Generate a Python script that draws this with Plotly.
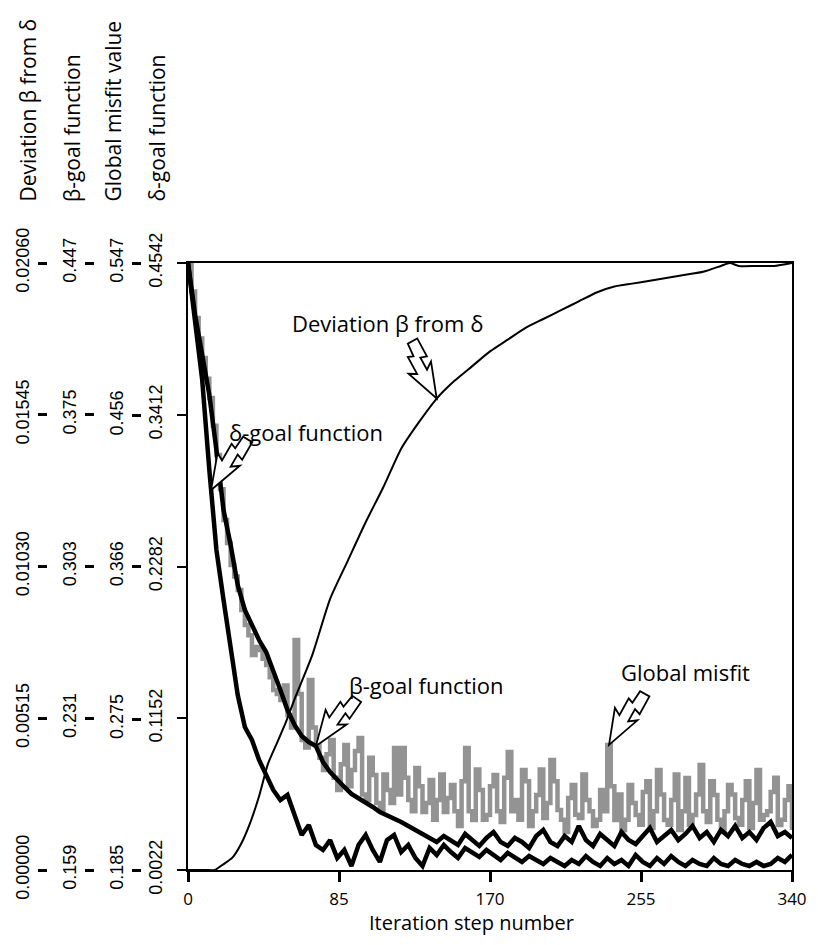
import numpy as np
import plotly.graph_objects as go

# ---------------- data ----------------
steps = list(range(0, 341, 4))
misfit_steps = list(range(0, 341, 2))

delta_goal = [
    0.4542, 0.4118, 0.3671, 0.3001, 0.2405, 0.2033, 0.1698, 0.1325, 0.1087, 0.0990,
    0.0841, 0.0729, 0.0618, 0.0543, 0.0581, 0.0432, 0.0283, 0.0357, 0.0208, 0.0171,
    0.0245, 0.0111, 0.0171, 0.0052, 0.0208, 0.0283, 0.0171, 0.0082, 0.0245, 0.0283,
    0.0156, 0.0208, 0.0111, 0.0052, 0.0186, 0.0134, 0.0208, 0.0156, 0.0111, 0.0186,
    0.0156, 0.0119, 0.0171, 0.0134, 0.0096, 0.0149, 0.0111, 0.0082, 0.0126, 0.0096,
    0.0067, 0.0111, 0.0082, 0.0052, 0.0096, 0.0067, 0.0126, 0.0082, 0.0052, 0.0111,
    0.0067, 0.0096, 0.0052, 0.0134, 0.0082, 0.0052, 0.0111, 0.0067, 0.0126, 0.0082,
    0.0052, 0.0096, 0.0067, 0.0052, 0.0111, 0.0067, 0.0052, 0.0096, 0.0067, 0.0052,
    0.0082, 0.0052, 0.0067, 0.0111, 0.0082, 0.0134,
]

beta_goal = [
    0.4470, 0.4223, 0.4034, 0.3844, 0.3583, 0.3298, 0.3132, 0.2942, 0.2824, 0.2753,
    0.2681, 0.2624, 0.2539, 0.2444, 0.2349, 0.2278, 0.2226, 0.2197, 0.2178, 0.2102,
    0.2055, 0.2017, 0.1984, 0.1951, 0.1932, 0.1913, 0.1889, 0.1865, 0.1851, 0.1837,
    0.1818, 0.1799, 0.1780, 0.1761, 0.1742, 0.1723, 0.1751, 0.1732, 0.1709, 0.1761,
    0.1732, 0.1704, 0.1742, 0.1770, 0.1723, 0.1704, 0.1742, 0.1723, 0.1694, 0.1751,
    0.1780, 0.1723, 0.1704, 0.1751, 0.1723, 0.1799, 0.1732, 0.1704, 0.1761, 0.1732,
    0.1704, 0.1770, 0.1732, 0.1713, 0.1751, 0.1789, 0.1723, 0.1751, 0.1780, 0.1732,
    0.1761, 0.1799, 0.1742, 0.1770, 0.1723, 0.1780, 0.1751, 0.1799, 0.1742, 0.1770,
    0.1732, 0.1789, 0.1818, 0.1751, 0.1770, 0.1742,
]

global_misfit = [
    0.5470, 0.5300, 0.5142, 0.5020, 0.4904, 0.4780, 0.4665, 0.4500, 0.4325, 0.4120,
    0.3937, 0.3800, 0.3669, 0.3600, 0.3520, 0.3400, 0.3311, 0.3250, 0.3132, 0.3180,
    0.3162, 0.3110, 0.3073, 0.3000, 0.2924, 0.2900, 0.2864, 0.2950, 0.2774, 0.2700,
    0.3222, 0.2900, 0.2625, 0.2580, 0.2983, 0.2700, 0.2596, 0.2520, 0.2446, 0.2540,
    0.2625, 0.2400, 0.2327, 0.2480, 0.2596, 0.2350, 0.2446, 0.2560, 0.2637, 0.2300,
    0.2267, 0.2520, 0.2417, 0.2250, 0.2208, 0.2420, 0.2327, 0.2250, 0.2578, 0.2300,
    0.2578, 0.2400, 0.2267, 0.2200, 0.2458, 0.2350, 0.2196, 0.2250, 0.2387, 0.2150,
    0.2267, 0.2420, 0.2196, 0.2280, 0.2357, 0.2200, 0.2112, 0.2380, 0.2578, 0.2200,
    0.2148, 0.2450, 0.2327, 0.2150, 0.2178, 0.2350, 0.2417, 0.2200, 0.2136, 0.2400,
    0.2554, 0.2200, 0.2267, 0.2150, 0.2446, 0.2380, 0.2112, 0.2200, 0.2297, 0.2450,
    0.2160, 0.2250, 0.2506, 0.2380, 0.2208, 0.2150, 0.2077, 0.2280, 0.2357, 0.2180,
    0.2160, 0.2420, 0.2267, 0.2200, 0.2112, 0.2150, 0.2327, 0.2200, 0.2596, 0.2350,
    0.2148, 0.2300, 0.2089, 0.2150, 0.2357, 0.2250, 0.2178, 0.2120, 0.2315, 0.2380,
    0.2100, 0.2200, 0.2446, 0.2300, 0.2148, 0.2120, 0.2267, 0.2420, 0.2089, 0.2200,
    0.2399, 0.2120, 0.2178, 0.2300, 0.2476, 0.2200, 0.2136, 0.2380, 0.2297, 0.2150,
    0.2077, 0.2200, 0.2357, 0.2300, 0.2160, 0.2120, 0.2267, 0.2380, 0.2100, 0.2250,
    0.2446, 0.2150, 0.2178, 0.2200, 0.2315, 0.2400, 0.2118, 0.2150, 0.2267, 0.2350,
    0.2089,
]

dev_steps = [0, 10, 15, 20, 25, 30, 35, 40, 45, 50, 55, 60, 70, 80, 90, 100, 110, 120,
             130, 140, 150, 160, 170, 180, 190, 200, 210, 220, 230, 240, 250, 260, 270,
             280, 290, 300, 305, 310, 320, 330, 340]
deviation = [0, 0, 0, 0.0002, 0.00042, 0.0009, 0.0016, 0.0025, 0.0036, 0.0043, 0.0050,
             0.0058, 0.0073, 0.0092, 0.0105, 0.0118, 0.0130, 0.0143, 0.0152, 0.0160,
             0.0166, 0.0171, 0.0176, 0.0180, 0.0184, 0.0187, 0.0190, 0.0193, 0.0196,
             0.0198, 0.0199, 0.0200, 0.0201, 0.0202, 0.0203, 0.0205, 0.0206, 0.0205,
             0.0205, 0.0205, 0.0206]

x_ticks = [0, 85, 170, 255, 340]
x_tick_text = ["0", "85", "170", "255", "340"]

dev_ticks = [0.0, 0.00515, 0.01030, 0.01545, 0.02060]
dev_text = ["0.00000", "0.00515", "0.01030", "0.01545", "0.02060"]
beta_ticks = [0.159, 0.231, 0.303, 0.375, 0.447]
beta_text = ["0.159", "0.231", "0.303", "0.375", "0.447"]
glob_ticks = [0.185, 0.275, 0.366, 0.456, 0.547]
glob_text = ["0.185", "0.275", "0.366", "0.456", "0.547"]
delta_ticks = [0.0022, 0.1152, 0.2282, 0.3412, 0.4542]
delta_text = ["0.0022", "0.1152", "0.2282", "0.3412", "0.4542"]

axis_titles = ["Deviation \u03b2 from \u03b4", "\u03b2-goal function",
               "Global misfit value", "\u03b4-goal function"]

# ---------------- layout geometry ----------------
OFF = 8                      # page body margin
W, H = 802, 929
ML = 2
MT = 263 - OFF
PLOT_R = 792 - OFF
PLOT_B = 870 - OFF
MR = W - PLOT_R
MB = H - PLOT_B
PW = W - ML - MR
PH = H - MT - MB


def px_x(px):
    """page pixel x -> paper fraction"""
    return (px - OFF - ML) / PW


def px_y(py):
    """page pixel y -> paper fraction"""
    return (PLOT_B - (py - OFF)) / PH


TICK_FONT = dict(family="Liberation Sans, Arial, sans-serif", size=18, color="black")
GEO_FONT = "Open Sans, Noto Sans, sans-serif"

fig = go.Figure()

fig.add_trace(go.Scatter(x=misfit_steps, y=global_misfit, yaxis="y", mode="lines",
                         line=dict(color="#939393", width=4.5, shape="hv"),
                         name="Global misfit", showlegend=False))
fig.add_trace(go.Scatter(x=steps, y=beta_goal, yaxis="y2", mode="lines",
                         line=dict(color="black", width=4.5),
                         name="\u03b2-goal function", showlegend=False))
fig.add_trace(go.Scatter(x=steps, y=delta_goal, yaxis="y3", mode="lines",
                         line=dict(color="black", width=4.5),
                         name="\u03b4-goal function", showlegend=False))
fig.add_trace(go.Scatter(x=dev_steps, y=deviation, yaxis="y4", mode="lines",
                         line=dict(color="black", width=2, shape="spline", smoothing=0.6),
                         name="Deviation \u03b2 from \u03b4", showlegend=False))


def free_axis(rng, vals, text, pos, overlay=True):
    d = dict(range=rng, tickmode="array", tickvals=vals, ticktext=text,
             anchor="free", position=pos, side="left",
             ticks="outside", ticklen=9, tickwidth=3, tickcolor="black",
             tickangle=-90, tickfont=TICK_FONT, ticklabelstandoff=2,
             showline=False, showgrid=False, zeroline=False, automargin=False)
    if overlay:
        d["overlaying"] = "y"
    return d


fig.update_layout(
    width=W, height=H,
    margin=dict(l=ML, r=MR, t=MT, b=MB),
    paper_bgcolor="white", plot_bgcolor="white",
    showlegend=False,
    xaxis=dict(domain=[px_x(188), 1], range=[0, 340], tickmode="array",
               tickvals=x_ticks, ticktext=x_tick_text,
               ticks="outside", ticklen=10, tickwidth=2.5, tickcolor="black",
               showline=True, linecolor="black", linewidth=1.5, mirror=True,
               showgrid=False, zeroline=False, anchor="y", automargin=False,
               tickfont=dict(family=GEO_FONT, size=17, color="black"),
               ticklabelstandoff=3),
    yaxis=free_axis([0.185, 0.547], glob_ticks, glob_text, px_x(141), overlay=False),
    yaxis2=free_axis([0.159, 0.447], beta_ticks, beta_text, px_x(94)),
    yaxis3=dict(range=[0.0022, 0.4542], tickmode="array", tickvals=delta_ticks,
                ticktext=delta_text, overlaying="y", anchor="x", side="left",
                ticks="outside", ticklen=9, tickwidth=2, tickcolor="black",
                tickangle=-90, tickfont=TICK_FONT, ticklabelstandoff=8,
                showline=True, linecolor="black", linewidth=1.5, mirror=True,
                showgrid=False, zeroline=False, automargin=False),
    yaxis4=free_axis([0.0, 0.0206], dev_ticks, dev_text, px_x(47)),
    yaxis5=dict(range=[0.0022, 0.4542], tickmode="array", tickvals=delta_ticks,
                overlaying="y", anchor="x", side="left", ticks="inside",
                ticklen=8, tickwidth=2, tickcolor="black", showticklabels=False,
                showline=False, showgrid=False, zeroline=False, automargin=False),
)

# axis titles (rotated, at the top of each scale)
title_x = [27, 72, 112, 156]
for t, xp in zip(axis_titles, title_x):
    fig.add_annotation(text=t, xref="paper", yref="paper", x=px_x(xp), y=px_y(204),
                       xanchor="center", yanchor="bottom", textangle=-90,
                       showarrow=False, font=dict(family=GEO_FONT, size=21, color="black"))

fig.add_annotation(text="Iteration step number", xref="paper", yref="paper",
                   x=px_x(471), y=px_y(937), xanchor="center", yanchor="bottom",
                   showarrow=False, borderpad=0,
                   font=dict(family=GEO_FONT, size=20, color="black"))

# curve labels
labels = [("Deviation \u03b2 from \u03b4", 387, 323),
          ("\u03b4-goal function", 306, 432),
          ("\u03b2-goal function", 426, 685),
          ("Global misfit", 685, 672)]
for t, xp, yp in labels:
    fig.add_annotation(text=t, xref="paper", yref="paper", x=px_x(xp), y=px_y(yp),
                       xanchor="center", yanchor="middle", showarrow=False,
                       font=dict(family=GEO_FONT, size=22, color="black"))

# zig-zag block arrows (drawn in pixels, anchored on the curves)
ARROW = [(0, 0), (-33, 12), (-28, 5), (-41, 5), (-39, 11), (-58, 11), (-58, 1),
         (-45, 0), (-47, -5), (-29, -5), (-33, -12)]


def arrow_path(dx, dy, scale=1.0):
    L = (dx * dx + dy * dy) ** 0.5
    ux, uy = dx / L, -dy / L
    nx, ny = -uy, ux
    pts = []
    for u, v in ARROW:
        pts.append(f"{(u * ux + v * nx) * scale:.1f},{(u * uy + v * ny) * scale:.1f}")
    return "M" + " L".join(pts) + " Z"


arrow_specs = [
    (140, float(np.interp(140, dev_steps, deviation)), "y4", (28, 51)),
    (13, float(np.interp(13, steps, delta_goal)), "y3", (-26, 45)),
    (72, float(np.interp(72, steps, beta_goal)), "y2", (-28, 40)),
    (237, global_misfit[misfit_steps.index(236)], "y", (-25, 45)),
]
for xa, ya, yr, (dx, dy) in arrow_specs:
    fig.add_shape(type="path", xref="x", yref=yr, xsizemode="pixel", ysizemode="pixel",
                  xanchor=xa, yanchor=ya, path=arrow_path(dx, dy, 1.07),
                  line=dict(color="black", width=1.8), fillcolor="white", layer="above")

fig.write_html("out.html")
